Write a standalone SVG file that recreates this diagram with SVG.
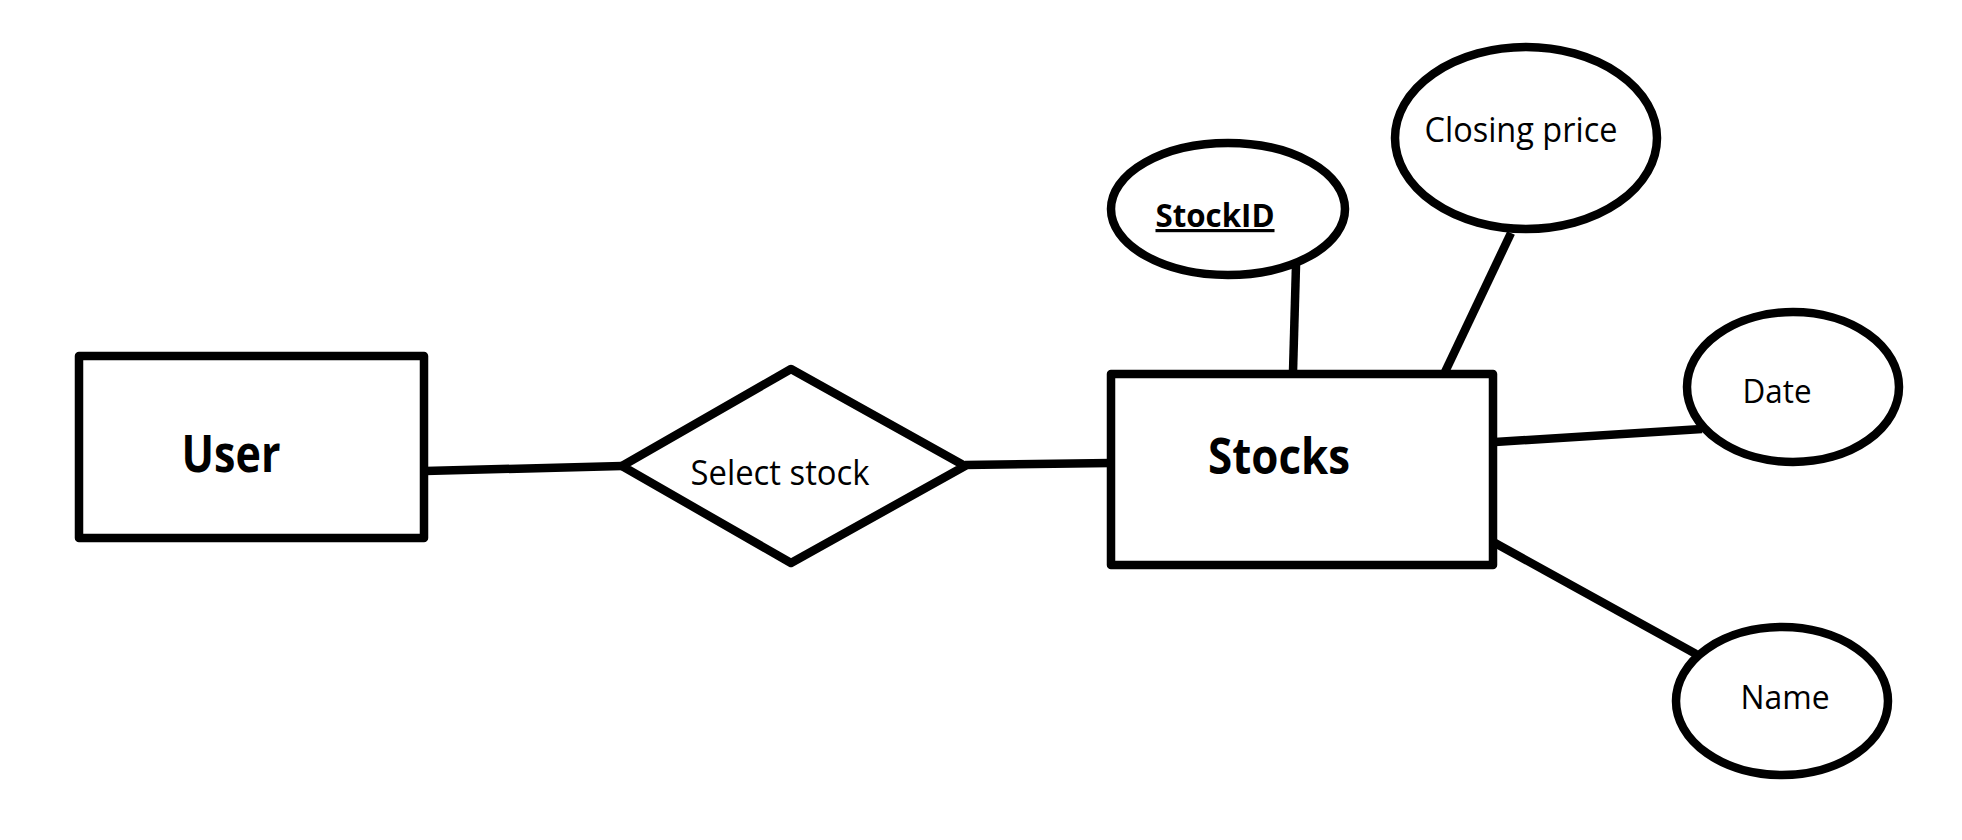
<svg xmlns="http://www.w3.org/2000/svg" width="1962" height="840" viewBox="0 0 1962 840">
<style>
.s{fill:#fff;stroke:#000;stroke-width:8.5;stroke-linejoin:round}
.c{stroke:#000;stroke-width:8.5;fill:none}
.t{font-family:"Open Sans","Liberation Sans",sans-serif;fill:#000;text-anchor:middle}
.b{font-weight:bold}
</style>
<rect width="1962" height="840" fill="#fff"/>
<g id="connectors">
<line class="c" x1="425" y1="471" x2="622" y2="466"/>
<line class="c" x1="965" y1="465" x2="1111" y2="463"/>
<line class="c" x1="1296" y1="265" x2="1293" y2="372"/>
<line class="c" x1="1511" y1="233" x2="1445" y2="372"/>
<line class="c" x1="1495" y1="442" x2="1702" y2="429"/>
<line class="c" x1="1495" y1="543" x2="1696" y2="654"/>
</g>
<g id="user">
<rect class="s" x="79" y="356" width="345" height="182"/>
<text class="t b" x="231" y="472" font-size="52" textLength="99" lengthAdjust="spacingAndGlyphs">User</text>
</g>
<g id="select-stock">
<polygon class="s" points="622,466 791,369 965,466 791,563"/>
<text class="t" x="780" y="485" font-size="34" textLength="179" lengthAdjust="spacingAndGlyphs">Select stock</text>
</g>
<g id="stocks">
<rect class="s" x="1111" y="374" width="382" height="191"/>
<text class="t b" x="1279" y="474" font-size="50" textLength="142" lengthAdjust="spacingAndGlyphs">Stocks</text>
</g>
<g id="stockid">
<ellipse class="s" cx="1228" cy="209" rx="117" ry="66"/>
<text class="t b" x="1215" y="227" font-size="32" textLength="119" lengthAdjust="spacingAndGlyphs" text-decoration="underline">StockID</text>
</g>
<g id="closing-price">
<ellipse class="s" cx="1526" cy="138" rx="131" ry="91"/>
<text class="t" x="1521" y="142" font-size="34" textLength="193" lengthAdjust="spacingAndGlyphs">Closing price</text>
</g>
<g id="date">
<ellipse class="s" cx="1793" cy="387" rx="106" ry="75"/>
<text class="t" x="1777" y="403" font-size="32" textLength="69" lengthAdjust="spacingAndGlyphs">Date</text>
</g>
<g id="name">
<ellipse class="s" cx="1782" cy="701" rx="106" ry="74"/>
<text class="t" x="1785" y="709" font-size="32" textLength="89" lengthAdjust="spacingAndGlyphs">Name</text>
</g>
</svg>
